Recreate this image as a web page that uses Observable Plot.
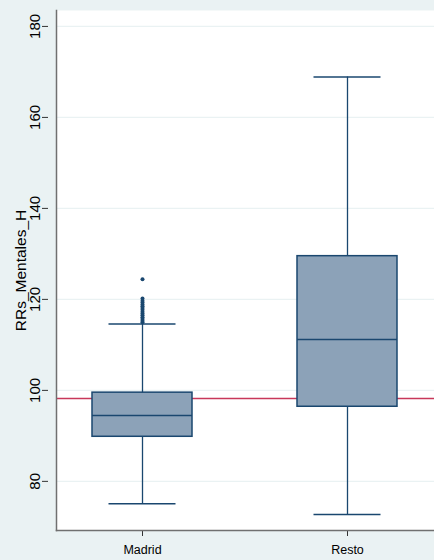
<!DOCTYPE html>
<html><head><meta charset="utf-8">
<script src="https://cdn.jsdelivr.net/npm/d3@7"></script>
<script src="https://cdn.jsdelivr.net/npm/@observablehq/plot@0.6"></script>
<style>
html,body{margin:0;padding:0;background:#eaf2f3;}
svg{display:block;font-family:"Liberation Sans",Arial,sans-serif;}
</style></head>
<body><div id="chart"></div>
<script>
const groups = ["Madrid", "Resto"];
const q1 = [89.8, 96.4];
const median = [94.5, 111.2];
const q3 = [99.5, 129.5];
const whiskerLow = [75.1, 72.7];
const whiskerHigh = [114.6, 168.9];
const outlierGroup = ["Madrid","Madrid","Madrid","Madrid","Madrid","Madrid","Madrid","Madrid","Madrid","Madrid","Madrid","Madrid","Madrid","Madrid","Madrid"];
const outlierValue = [115.0,115.3,115.7,116.1,116.5,116.9,117.3,117.7,118.1,118.5,118.9,119.3,119.7,120.2,124.4];
const refLine = [98.2];
const yTicks = [80, 100, 120, 140, 160, 180];

const boxes = groups.map((g, i) => ({g, q1: q1[i], med: median[i], q3: q3[i], lo: whiskerLow[i], hi: whiskerHigh[i]}));
const outliers = outlierValue.map((v, i) => ({g: outlierGroup[i], v}));

const navy = "#1a476f";
const plot = Plot.plot({
  width: 434, height: 560,
  marginLeft: 56, marginRight: 0, marginTop: 10, marginBottom: 30,
  style: {background: "#eaf2f3", fontFamily: "'Liberation Sans', Arial, sans-serif", overflow: "visible"},
  x: {domain: groups, paddingInner: 0.51, paddingOuter: 0.1725, label: null},
  y: {domain: [69.2, 183.5], label: null},
  marks: [
    Plot.frame({fill: "white", stroke: null}),
    Plot.gridY(yTicks, {stroke: "#eaf2f3", strokeOpacity: 1, strokeWidth: 1.2}),
    Plot.ruleY(refLine, {stroke: "#c8385a", strokeWidth: 1.5}),
    Plot.ruleX(boxes, {x: "g", y1: "lo", y2: "hi", stroke: navy, strokeWidth: 1.3}),
    Plot.tickY(boxes, {x: "g", y: "lo", stroke: navy, strokeWidth: 1.5, inset: 16.5}),
    Plot.tickY(boxes, {x: "g", y: "hi", stroke: navy, strokeWidth: 1.5, inset: 16.5}),
    Plot.barY(boxes, {x: "g", y1: "q1", y2: "q3", fill: "#8ca2b8", stroke: navy, strokeWidth: 1.5}),
    Plot.tickY(boxes, {x: "g", y: "med", stroke: navy, strokeWidth: 1.5}),
    Plot.dot(outliers, {x: "g", y: "v", r: 2, fill: navy, stroke: null}),
    Plot.axisY(yTicks, {tickRotate: -90, tickSize: 6, tickPadding: 3, fontSize: 15, stroke: "#333", textAnchor: "middle", dx: -8, label: null}),
    Plot.axisY({ticks: [], label: "RRs_Mentales_H", labelAnchor: "center", labelArrow: "none", labelOffset: 42, fontSize: 15.5}),
    Plot.axisX({tickSize: 6, tickPadding: 9, fontSize: 12.5, stroke: "#333", label: null}),
    Plot.frame({anchor: "left", stroke: "#707070", strokeWidth: 1.5}),
    Plot.frame({anchor: "bottom", stroke: "#707070", strokeWidth: 1.5}),
  ]
});
document.getElementById("chart").appendChild(plot);
</script></body></html>
